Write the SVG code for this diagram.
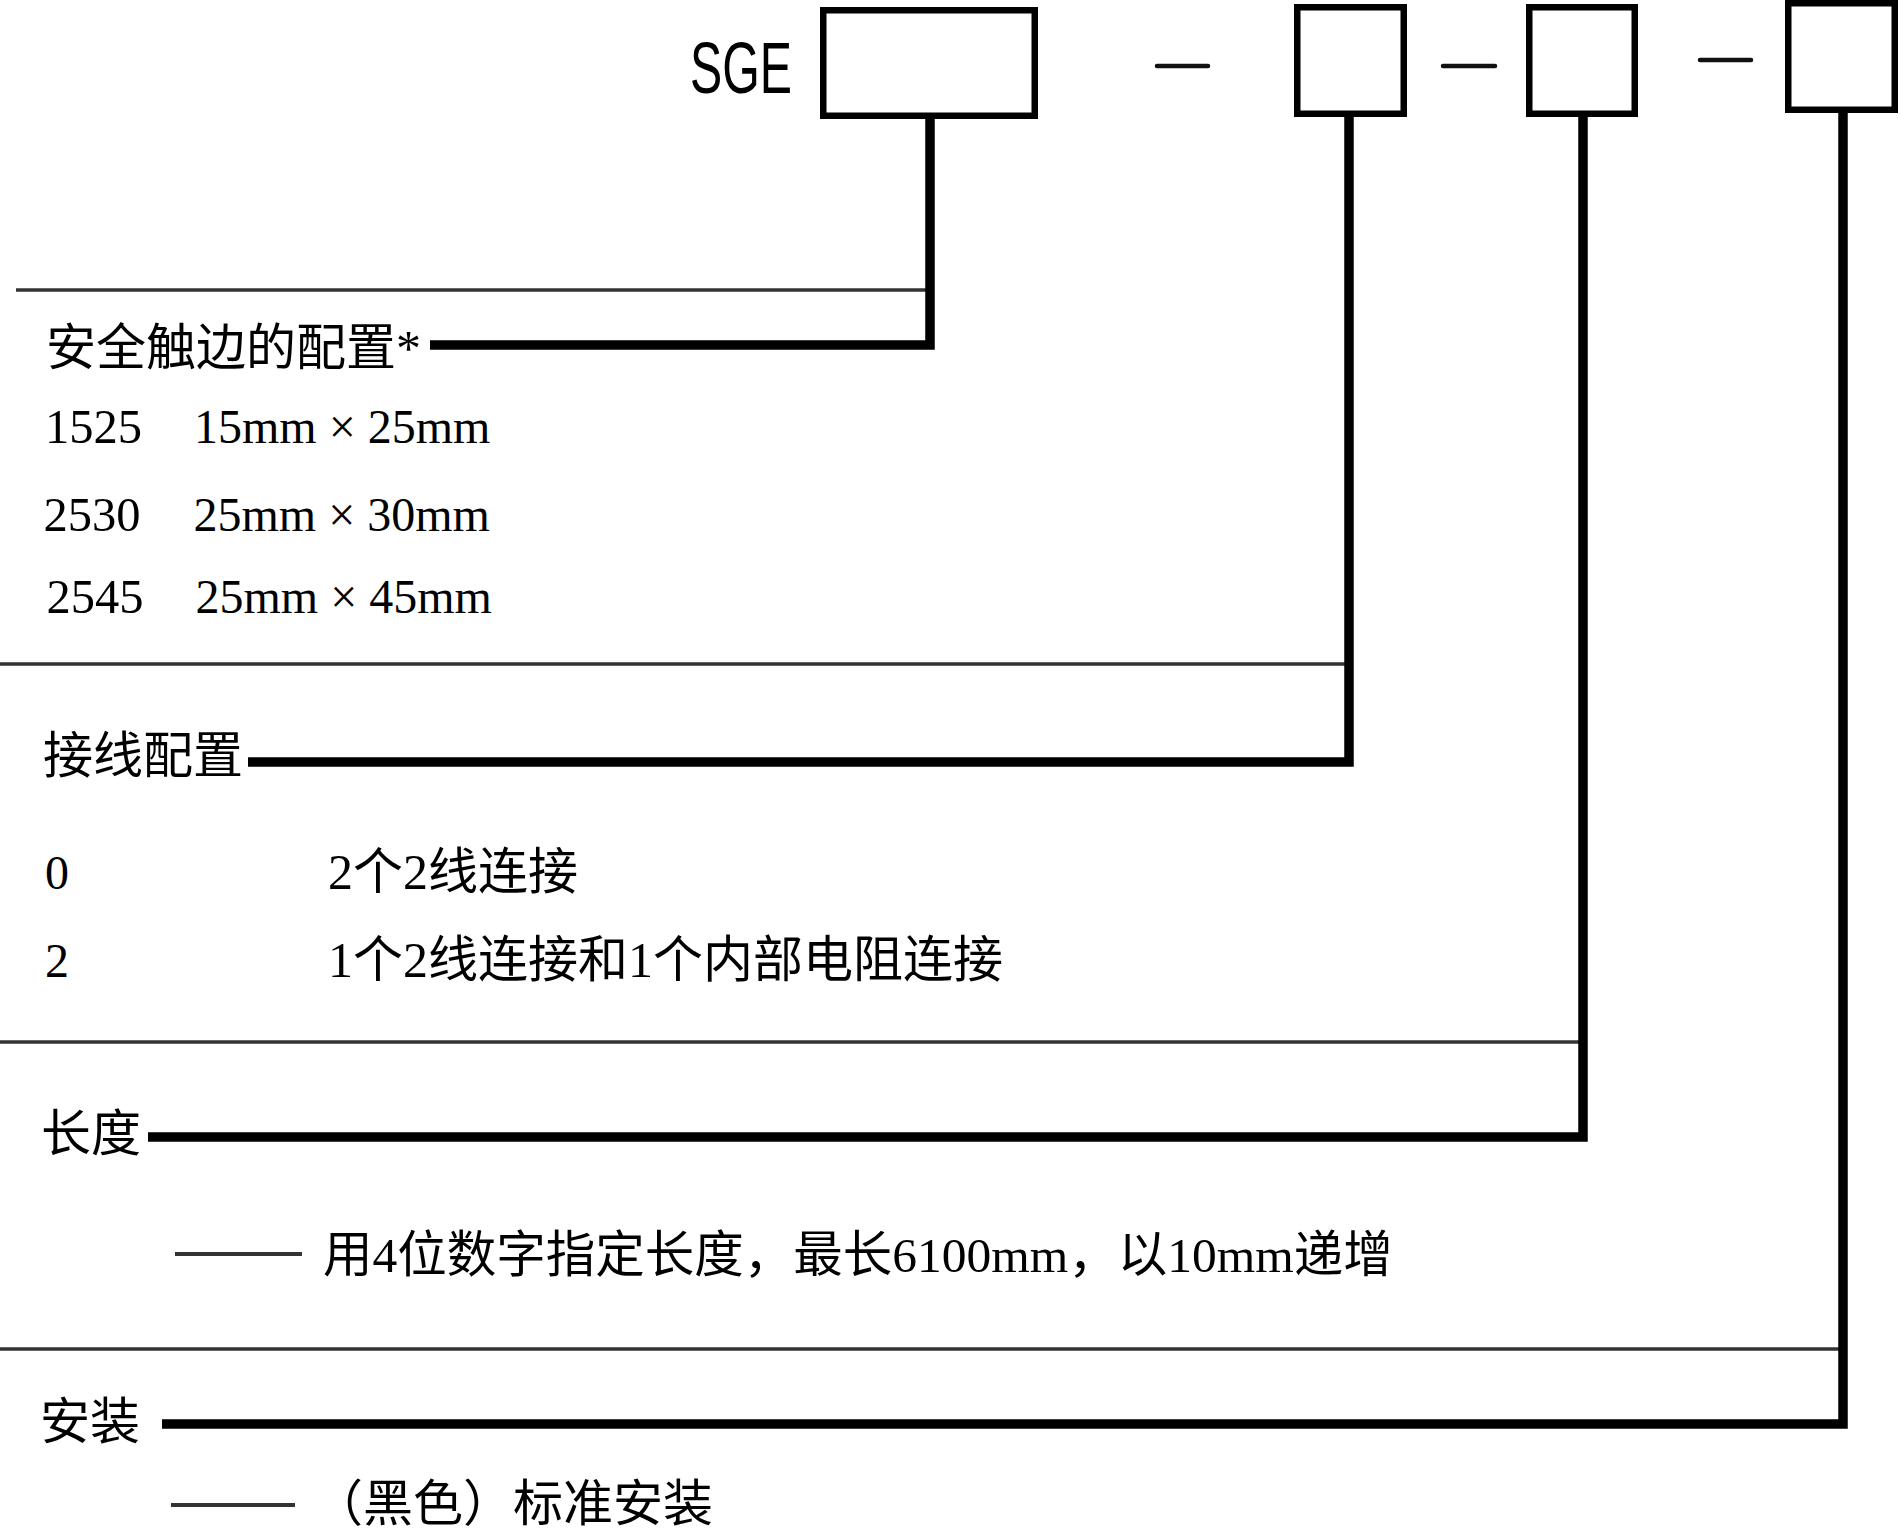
<svg xmlns="http://www.w3.org/2000/svg" width="1900" height="1529" viewBox="0 0 1900 1529">
<style>
.box{fill:#fff;stroke:#000;stroke-width:6.5}
.dash{stroke:#111;stroke-width:4.5;stroke-linecap:round}
.conn{fill:none;stroke:#000;stroke-width:9.5;stroke-linejoin:miter;stroke-linecap:butt}
.sep{stroke:#333;stroke-width:3.5}
.lead{stroke:#333;stroke-width:4}
.t{font-family:"Liberation Serif","Noto Sans CJK SC",serif;fill:#000}
.sge{font-family:"Liberation Sans","DejaVu Sans",sans-serif;fill:#000}
</style>
<rect width="1900" height="1529" fill="#fff"/>
<g id="header">
<text class="sge" x="690" y="93" font-size="72" textLength="102" lengthAdjust="spacingAndGlyphs">SGE</text>
</g>
<g id="box1"><rect class="box" x="823.25" y="10.25" width="211.5" height="105.5"/></g>
<g id="box2"><rect class="box" x="1297.25" y="7.25" width="106.5" height="106.5"/></g>
<g id="box3"><rect class="box" x="1529.25" y="7.25" width="105.5" height="106.5"/></g>
<g id="box4"><rect class="box" x="1788.25" y="3.25" width="106.5" height="106.5"/></g>
<g id="dashes">
<line class="dash" x1="1157" y1="66" x2="1208" y2="66"/>
<line class="dash" x1="1443" y1="66" x2="1495" y2="66"/>
<line class="dash" x1="1700" y1="60" x2="1751" y2="60"/>
</g>
<g id="separators">
<line class="sep" x1="16" y1="290" x2="930" y2="290"/>
<line class="sep" x1="0" y1="664" x2="1349" y2="664"/>
<line class="sep" x1="0" y1="1042" x2="1583" y2="1042"/>
<line class="sep" x1="0" y1="1349" x2="1843" y2="1349"/>
</g>
<g id="connectors">
<polyline class="conn" points="930,119 930,345 430,345"/>
<polyline class="conn" points="1349,117 1349,762 248,762"/>
<polyline class="conn" points="1583,117 1583,1137 148,1137"/>
<polyline class="conn" points="1843,113 1843,1424 162,1424"/>
</g>
<g id="section-config">
<text class="t" x="46" y="365" font-size="50">安全触边的配置*</text>
<text class="t" x="45" y="443" font-size="48.5">1525</text>
<text class="t" x="194" y="443" font-size="48">15mm × 25mm</text>
<text class="t" x="43.5" y="531" font-size="48.5">2530</text>
<text class="t" x="193.5" y="531" font-size="48">25mm × 30mm</text>
<text class="t" x="46.5" y="613" font-size="48.5">2545</text>
<text class="t" x="195.5" y="613" font-size="48">25mm × 45mm</text>
</g>
<g id="section-wiring">
<text class="t" x="43" y="773" font-size="50">接线配置</text>
<text class="t" x="45" y="889" font-size="48">0</text>
<text class="t" x="328" y="889" font-size="50">2个2线连接</text>
<text class="t" x="45" y="977" font-size="48">2</text>
<text class="t" x="328" y="977" font-size="50">1个2线连接和1个内部电阻连接</text>
</g>
<g id="section-length">
<text class="t" x="41" y="1151" font-size="50">长度</text>
<line class="lead" x1="175" y1="1254" x2="302" y2="1254"/>
<text class="t" x="323" y="1272" font-size="49.5">用4位数字指定长度，最长6100mm，以10mm递增</text>
</g>
<g id="section-mount">
<text class="t" x="40" y="1439" font-size="50">安装</text>
<line class="lead" x1="171" y1="1505" x2="295" y2="1505"/>
<text class="t" x="313" y="1521" font-size="50">（黑色）标准安装</text>
</g>
</svg>
